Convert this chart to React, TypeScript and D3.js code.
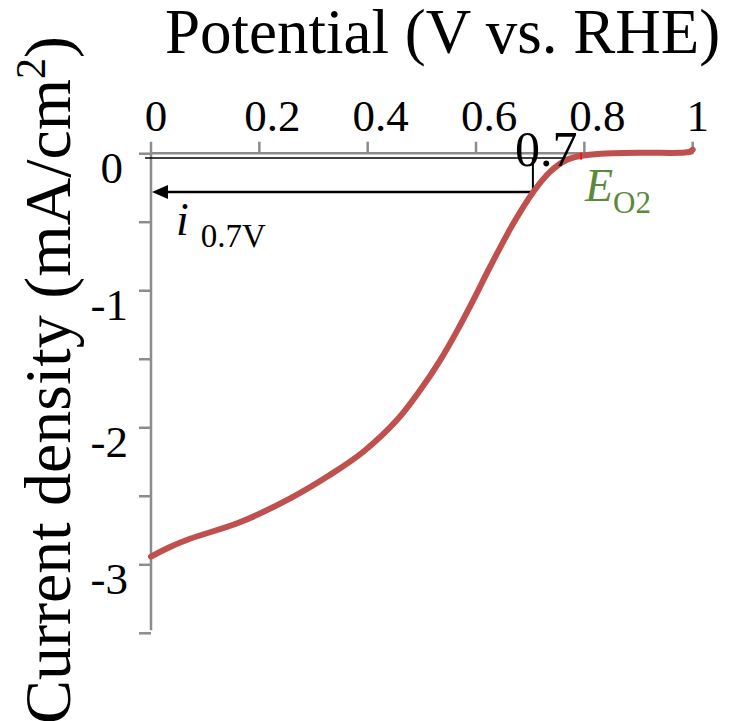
import React from 'react';
import * as d3 from 'd3';

// --- data ---
const potential = [0, 0.035, 0.072, 0.164, 0.257, 0.33, 0.392, 0.454, 0.497, 0.534, 0.564, 0.595, 0.626, 0.669, 0.706, 0.737, 0.767, 0.792, 0.853, 0.915, 0.977, 0.995, 1.0];
const current = [-2.94, -2.87, -2.81, -2.69, -2.515, -2.345, -2.175, -1.944, -1.725, -1.506, -1.3, -1.068, -0.825, -0.508, -0.277, -0.131, -0.046, -0.017, 0.003, 0.007, 0.007, 0.015, 0.03];

const xTicks = [0, 0.2, 0.4, 0.6, 0.8, 1];
const xTickLabels = ['0', '0.2', '0.4', '0.6', '0.8', '1'];
const yTicks = [0, -0.5, -1, -1.5, -2, -2.5, -3, -3.5];
const yLabelTicks = [0, -1, -2, -3];
const yTickLabels = ['0', '-1', '-2', '-3'];

// annotation values
const refPotential = 0.705;   // 0.7 V marker
const refCurrent = -0.28;     // i at 0.7 V
const baselineCurrent = -0.032;
const onsetPotential = 0.794; // E_O2

const W = 731, H = 721;
const FONT = '"Liberation Serif", "Times New Roman", serif';
const GRAY = '#8c8c8c';
const RED = '#c0504d';
const GREEN = '#5a8a3a';

const App = () => {
  const x = d3.scaleLinear().domain([0, 1]).range([151, 692.7]);
  const y = d3.scaleLinear().domain([0, -3.5]).range([153.7, 633.3]);

  const line = d3.line<number>()
    .x((d, i) => x(potential[i]))
    .y((d) => y(d))
    .curve(d3.curveCatmullRom.alpha(0.5));

  const arrowY = y(refCurrent);
  const tipX = x(0) + 1;

  return (
    <svg width={W} height={H} style={{ position: 'absolute', left: 0, top: 0, background: '#fff' }} fontFamily={FONT}>
      {/* title */}
      <text x={165} y={53} fontSize={63} fill="#000">Potential (V vs. RHE)</text>

      {/* y label */}
      <text transform={`translate(70, 380) rotate(-90)`} textAnchor="middle" fontSize={66} fill="#000">
        Current density (mA/cm<tspan dy={-25} fontSize={42}>2</tspan><tspan dy={25}>)</tspan>
      </text>

      {/* axes */}
      <line x1={x(0)} x2={x(1)} y1={y(0) - 0.4} y2={y(0) - 0.4} stroke={GRAY} strokeWidth={2.5} />
      <line x1={x(0)} x2={x(0)} y1={y(0)} y2={y(-3.5) - 3} stroke={GRAY} strokeWidth={2.5} />
      {xTicks.map((t) => (
        <line key={'xt' + t} x1={x(t)} x2={x(t)} y1={y(0)} y2={y(0) - 12} stroke={GRAY} strokeWidth={2.5} />
      ))}
      {yTicks.map((t) => (
        <line key={'yt' + t} x1={x(0)} x2={x(0) - 12} y1={y(t)} y2={y(t)} stroke={GRAY} strokeWidth={2.5} />
      ))}
      {xTicks.map((t, i) => (
        <text key={'xl' + t} x={x(t) + (xTickLabels[i].length > 1 ? 13 : 5)} y={131} textAnchor="middle" fontSize={45} fill="#000">
          {xTickLabels[i]}
        </text>
      ))}
      {yLabelTicks.map((t, i) => (
        <text key={'yl' + t} x={yTickLabels[i] === '0' ? 123 : 128} y={y(t) + 29.5} textAnchor="end" fontSize={45} fill="#000">
          {yTickLabels[i]}
        </text>
      ))}

      {/* annotations */}
      <line x1={x(0) - 6} x2={x(onsetPotential)} y1={y(baselineCurrent)} y2={y(baselineCurrent)} stroke="#000" strokeWidth={1.5} />
      <line x1={x(refPotential)} x2={x(refPotential)} y1={y(baselineCurrent)} y2={arrowY} stroke="#000" strokeWidth={2} />
      <line x1={x(refPotential) + 1} x2={tipX + 14} y1={arrowY} y2={arrowY} stroke="#000" strokeWidth={2.5} />
      <path d={`M${tipX},${arrowY} L${tipX + 16},${arrowY - 7} L${tipX + 16},${arrowY + 7} Z`} fill="#000" />

      {/* curve */}
      <path d={line(current) || ''} fill="none" stroke={RED} strokeWidth={6} strokeLinecap="round" strokeLinejoin="round" />
      <line x1={x(onsetPotential)} x2={x(onsetPotential)} y1={y(0) - 1} y2={y(0) + 6} stroke="#ff0000" strokeWidth={1.5} />

      {/* labels */}
      <text x={515} y={166} fontSize={50} fill="#000">0.7</text>
      <text x={176} y={235} fill="#000">
        <tspan fontSize={46} fontStyle="italic">i</tspan>
        <tspan dx={12} y={247} fontSize={33}>0.7V</tspan>
      </text>
      <text x={585} y={201} fill={GREEN}>
        <tspan fontSize={46} fontStyle="italic">E</tspan>
        <tspan y={213} fontSize={31}>O2</tspan>
      </text>
    </svg>
  );
};

export default App;
